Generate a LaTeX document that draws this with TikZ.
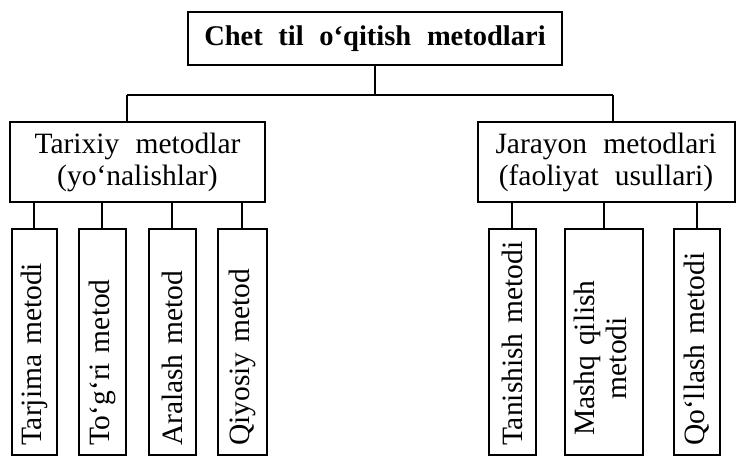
\documentclass[tikz,border=0pt]{standalone}
\usepackage{fontspec}
\setmainfont[WordSpace=2.2]{Liberation Serif}

\begin{document}
\begin{tikzpicture}[x=1pt, y=1pt,
  mydrawstyle/.style={draw=black, line width=2pt},
  font=\fontsize{29.5}{32}\selectfont,
  rootbox/.style={mydrawstyle, font=\fontsize{28.5}{32}\selectfont\bfseries, minimum width=374pt, minimum height=53pt, inner sep=0pt},
  midbox/.style={mydrawstyle, align=center, minimum height=80pt, inner sep=0pt},
  leafbox/.style={mydrawstyle, rotate=90, minimum width=226pt, text width=208pt, align=left, inner sep=0pt}]
  \useasboundingbox (0,0) rectangle (736,457);

  \node[rootbox] (root) at (375,418.5) {Chet til o‘qitish metodlari};

  \node[midbox, minimum width=255pt] (hist) at (137.5,295) {Tarixiy metodlar\\(yo‘nalishlar)};
  \node[midbox, minimum width=257pt] (proc) at (606,295) {Jarayon metodlari\\(faoliyat usullari)};

  \coordinate (busL) at (127,362);
  \coordinate (busR) at (613,362);
  \draw[mydrawstyle] (busL) -- (busR);
  \draw[mydrawstyle] (root.south) -- (root.south |- busL);
  \draw[mydrawstyle] (busL) -- (busL |- hist.north);
  \draw[mydrawstyle] (busR) -- (busR |- proc.north);

  \node[leafbox, minimum height=45pt] (tarj) at (34,115) {Tarjima metodi};
  \node[leafbox, minimum height=47pt] (togri) at (102,115) {To‘g‘ri metod};
  \node[leafbox, minimum height=47pt] (aral) at (172,115) {Aralash metod};
  \node[leafbox, minimum height=49pt] (qiyos) at (242,115) {Qiyosiy metod};

  \node[leafbox, minimum height=47pt] (tanish) at (512,115) {Tanishish metodi};
  \node[leafbox, minimum height=78pt] (mashq) at (604,115) {\hspace*{10pt}\begin{tabular}{@{}c@{}}Mashq qilish\\metodi\end{tabular}};
  \node[leafbox, minimum height=46pt] (qollash) at (697,115) {Qo‘llash metodi};

  \draw[mydrawstyle] (tarj.east) -- (tarj.east |- hist.south);
  \draw[mydrawstyle] (togri.east) -- (togri.east |- hist.south);
  \draw[mydrawstyle] (aral.east) -- (aral.east |- hist.south);
  \draw[mydrawstyle] (qiyos.east) -- (qiyos.east |- hist.south);
  \draw[mydrawstyle] (tanish.east) -- (tanish.east |- proc.south);
  \draw[mydrawstyle] (mashq.east) -- (mashq.east |- proc.south);
  \draw[mydrawstyle] (qollash.east) -- (qollash.east |- proc.south);
\end{tikzpicture}
\end{document}
